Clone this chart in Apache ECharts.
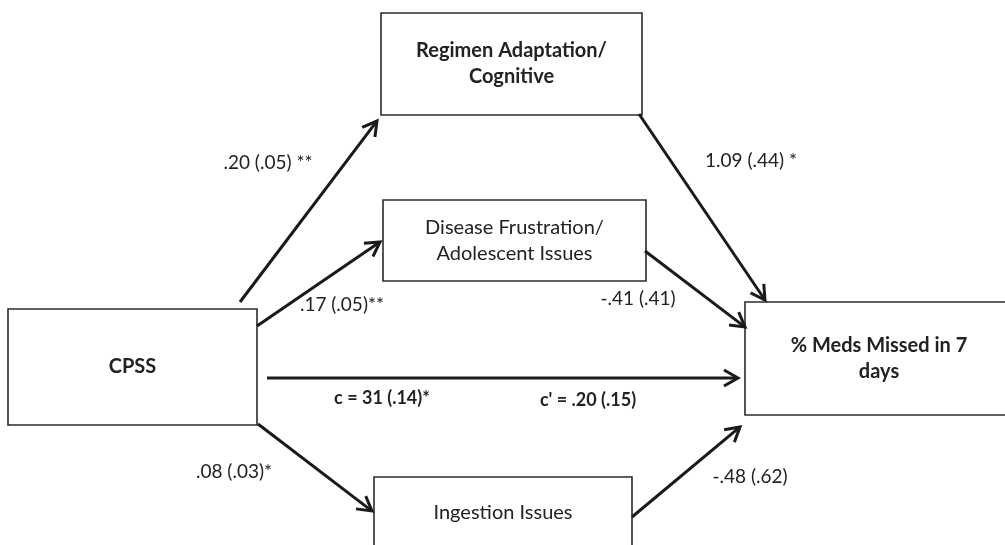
<!DOCTYPE html>
<html>
<head>
<meta charset="utf-8">
<title>CPSS 中介路径图</title>
<script src="https://cdn.jsdelivr.net/npm/echarts@6/dist/echarts.min.js"></script>
<style>
	html, body { margin: 0; padding: 0; background: #fff; }
	.chart { width: 1005px; height: 545px; }
</style>
</head>
<body>
<div class="chart"></div>
<script>
// 方框：名称、是否加粗、[左, 上, 右, 下]
var boxNames = ['Regimen Adaptation/\nCognitive', 'Disease Frustration/\nAdolescent Issues', 'CPSS', '% Meds Missed in 7\ndays', 'Ingestion Issues'];
var boxBold = [true, false, true, true, false];
var boxRects = [[381, 13, 642, 115], [383, 200, 646, 281], [8, 309, 257, 425], [745, 302, 1013, 415], [374, 477, 632, 549]];

// 路径箭头：起点、终点(箭头尖)
var arrowFrom = [[240, 302], [257, 326], [267, 378], [258, 424], [639, 114], [645, 251], [632, 517]];
var arrowTo = [[377, 121], [380, 242], [738, 378], [372, 511], [765, 300], [745, 327], [740, 427]];

// 路径系数文字
var coefText = ['.20 (.05) **', '.17 (.05)**', 'c = 31 (.14)*', "c' = .20 (.15)", '.08 (.03)*', '1.09 (.44) *', '-.41 (.41)', '-.48 (.62)'];
var coefPos = [[268, 163], [342, 305], [382, 398], [588, 400], [234, 472], [751, 161], [638, 299], [750, 477]];
var coefBold = [false, false, true, true, false, false, false, false];

(function () {
	var myChart = echarts.init(document.querySelector(".chart"));
	var font = 'Lato, "Open Sans", sans-serif';

	var boxData = boxRects.map(function (r, i) { return [r[0], r[1], r[2], r[3], i]; });
	var arrowData = arrowFrom.map(function (p, i) { return [p[0], p[1], arrowTo[i][0], arrowTo[i][1], i]; });
	var coefData = coefPos.map(function (p, i) { return [p[0], p[1], i]; });

	var option = {
		animation: false,
		// 整个画布作为坐标系
		grid: { left: 0, right: 0, top: 0, bottom: 0 },
		xAxis: { type: 'value', min: 0, max: 1005, show: false },
		yAxis: { type: 'value', min: 0, max: 545, inverse: true, show: false },
		series: [
			{
				name: '方框',
				type: 'custom',
				clip: false,
				data: boxData,
				renderItem: function (params, api) {
					var p0 = api.coord([api.value(0), api.value(1)]);
					var p1 = api.coord([api.value(2), api.value(3)]);
					var i = api.value(4);
					return {
						type: 'group',
						children: [
							{
								type: 'rect',
								shape: { x: p0[0], y: p0[1], width: p1[0] - p0[0], height: p1[1] - p0[1] },
								style: { fill: '#fff', stroke: '#2b2b2b', lineWidth: 1.6 }
							},
							{
								type: 'text',
								x: (p0[0] + p1[0]) / 2,
								y: (p0[1] + p1[1]) / 2,
								style: {
									text: boxNames[i],
									fill: '#222',
									font: (boxBold[i] ? 'bold ' : '') + '20px ' + font,
									lineHeight: 26,
									align: 'center',
									verticalAlign: 'middle'
								}
							}
						]
					};
				}
			},
			{
				name: '路径',
				type: 'custom',
				clip: false,
				data: arrowData,
				renderItem: function (params, api) {
					var a = api.coord([api.value(0), api.value(1)]);
					var b = api.coord([api.value(2), api.value(3)]);
					var dx = b[0] - a[0], dy = b[1] - a[1];
					var len = Math.sqrt(dx * dx + dy * dy);
					var ux = dx / len, uy = dy / len;
					// 箭头两翼
					var back = 14, half = 8;
					var l = [b[0] - ux * back - uy * half, b[1] - uy * back + ux * half];
					var r = [b[0] - ux * back + uy * half, b[1] - uy * back - ux * half];
					return {
						type: 'group',
						children: [
							{
								type: 'line',
								shape: { x1: a[0], y1: a[1], x2: b[0] - ux * 1.5, y2: b[1] - uy * 1.5 },
								style: { stroke: '#1a1a1a', lineWidth: 3 }
							},
							{
								type: 'polyline',
								shape: { points: [l, b, r] },
								style: { stroke: '#1a1a1a', lineWidth: 3, fill: null, lineJoin: 'miter' }
							}
						]
					};
				}
			},
			{
				name: '系数',
				type: 'custom',
				clip: false,
				data: coefData,
				renderItem: function (params, api) {
					var p = api.coord([api.value(0), api.value(1)]);
					var i = api.value(2);
					return {
						type: 'text',
						x: p[0],
						y: p[1],
						style: {
							text: coefText[i],
							fill: '#222',
							font: (coefBold[i] ? 'bold 18px ' : '19px ') + font,
							align: 'center',
							verticalAlign: 'middle'
						}
					};
				}
			}
		]
	};

	myChart.setOption(option);
	window.addEventListener('resize', function () {
		myChart.resize();
	});
})();
</script>
</body>
</html>
